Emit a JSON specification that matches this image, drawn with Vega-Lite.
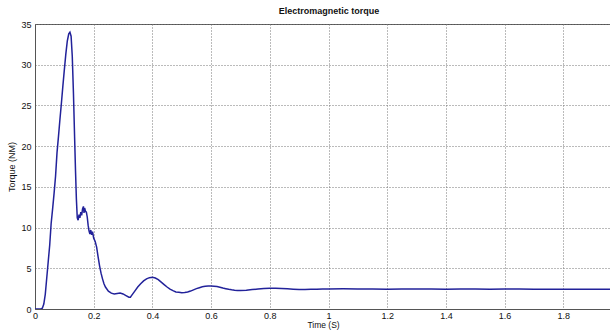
{
  "$schema": "https://vega.github.io/schema/vega-lite/v6.json",
  "autosize": {"type": "none"},
  "padding": {"left": 35, "top": 24, "right": 0, "bottom": 21},
  "width": 576,
  "height": 285,
  "background": "white",
  "config": {
    "view": {"stroke": "#555", "strokeWidth": 1},
    "font": "Liberation Sans",
    "axis": {
      "domainColor": "#555",
      "grid": true,
      "gridColor": "#777",
      "gridDash": [1, 2],
      "gridWidth": 1,
      "ticks": false,
      "labelFontSize": 9,
      "labelColor": "#111",
      "titleFontSize": 9,
      "titleFontWeight": "normal",
      "titleColor": "#111"
    }
  },
  "title": {
    "text": "Electromagnetic torque",
    "fontSize": 9,
    "fontWeight": "bold",
    "color": "#111",
    "offset": 4,
    "dx": 6
  },
  "data": {
    "values": [
      {"t": 0, "v": 0}, {"t": 0.02, "v": 0}, {"t": 0.025, "v": 0.1}, {"t": 0.03, "v": 0.6},
      {"t": 0.035, "v": 1.8}, {"t": 0.04, "v": 3.8}, {"t": 0.045, "v": 5.8}, {"t": 0.05, "v": 7.8},
      {"t": 0.055, "v": 10.5}, {"t": 0.06, "v": 12.3}, {"t": 0.065, "v": 14.2}, {"t": 0.07, "v": 16.3},
      {"t": 0.075, "v": 19.2}, {"t": 0.08, "v": 21.2}, {"t": 0.085, "v": 23.3}, {"t": 0.09, "v": 25.3},
      {"t": 0.095, "v": 27.4}, {"t": 0.1, "v": 29.4}, {"t": 0.105, "v": 31.3}, {"t": 0.11, "v": 32.9},
      {"t": 0.115, "v": 33.8}, {"t": 0.119, "v": 34.0}, {"t": 0.123, "v": 33.5}, {"t": 0.127, "v": 31},
      {"t": 0.131, "v": 26.5}, {"t": 0.135, "v": 21}, {"t": 0.138, "v": 17}, {"t": 0.141, "v": 13.5},
      {"t": 0.144, "v": 11.2}, {"t": 0.147, "v": 10.9}, {"t": 0.15, "v": 11.6}, {"t": 0.153, "v": 11.2},
      {"t": 0.156, "v": 11.9}, {"t": 0.159, "v": 11.5}, {"t": 0.162, "v": 12.3}, {"t": 0.165, "v": 12.6},
      {"t": 0.167, "v": 11.8}, {"t": 0.169, "v": 12.4}, {"t": 0.172, "v": 12.0}, {"t": 0.175, "v": 11.9},
      {"t": 0.178, "v": 11.3}, {"t": 0.181, "v": 10.3}, {"t": 0.184, "v": 9.6}, {"t": 0.187, "v": 9.2},
      {"t": 0.19, "v": 9.7}, {"t": 0.193, "v": 9.1}, {"t": 0.196, "v": 9.5}, {"t": 0.2, "v": 8.7},
      {"t": 0.205, "v": 8.3}, {"t": 0.21, "v": 7.6}, {"t": 0.215, "v": 6.4}, {"t": 0.22, "v": 5.3},
      {"t": 0.225, "v": 4.4}, {"t": 0.23, "v": 3.7}, {"t": 0.235, "v": 3.1}, {"t": 0.24, "v": 2.7},
      {"t": 0.25, "v": 2.2}, {"t": 0.26, "v": 1.95}, {"t": 0.27, "v": 1.85}, {"t": 0.28, "v": 1.9},
      {"t": 0.29, "v": 1.95}, {"t": 0.3, "v": 1.85}, {"t": 0.31, "v": 1.65}, {"t": 0.32, "v": 1.45},
      {"t": 0.325, "v": 1.45}, {"t": 0.33, "v": 1.7}, {"t": 0.34, "v": 2.2}, {"t": 0.35, "v": 2.7},
      {"t": 0.36, "v": 3.1}, {"t": 0.37, "v": 3.45}, {"t": 0.38, "v": 3.7}, {"t": 0.39, "v": 3.85},
      {"t": 0.4, "v": 3.9}, {"t": 0.41, "v": 3.8}, {"t": 0.42, "v": 3.6}, {"t": 0.43, "v": 3.3},
      {"t": 0.44, "v": 3.0}, {"t": 0.45, "v": 2.7}, {"t": 0.46, "v": 2.45}, {"t": 0.47, "v": 2.25},
      {"t": 0.48, "v": 2.1}, {"t": 0.49, "v": 2.05}, {"t": 0.5, "v": 2.0}, {"t": 0.51, "v": 2.02},
      {"t": 0.52, "v": 2.08}, {"t": 0.53, "v": 2.2}, {"t": 0.54, "v": 2.35}, {"t": 0.55, "v": 2.5},
      {"t": 0.56, "v": 2.62}, {"t": 0.57, "v": 2.72}, {"t": 0.58, "v": 2.78}, {"t": 0.59, "v": 2.82},
      {"t": 0.6, "v": 2.83}, {"t": 0.61, "v": 2.8}, {"t": 0.62, "v": 2.75}, {"t": 0.63, "v": 2.67},
      {"t": 0.64, "v": 2.58}, {"t": 0.65, "v": 2.5}, {"t": 0.66, "v": 2.42}, {"t": 0.67, "v": 2.36},
      {"t": 0.68, "v": 2.31}, {"t": 0.69, "v": 2.28}, {"t": 0.7, "v": 2.27}, {"t": 0.72, "v": 2.3},
      {"t": 0.74, "v": 2.38}, {"t": 0.76, "v": 2.46}, {"t": 0.78, "v": 2.52}, {"t": 0.8, "v": 2.55},
      {"t": 0.82, "v": 2.55}, {"t": 0.84, "v": 2.52}, {"t": 0.86, "v": 2.48}, {"t": 0.88, "v": 2.44},
      {"t": 0.9, "v": 2.41}, {"t": 0.92, "v": 2.4}, {"t": 0.94, "v": 2.42}, {"t": 0.96, "v": 2.44},
      {"t": 0.98, "v": 2.46}, {"t": 1.0, "v": 2.47}, {"t": 1.05, "v": 2.48}, {"t": 1.1, "v": 2.46},
      {"t": 1.15, "v": 2.45}, {"t": 1.2, "v": 2.44}, {"t": 1.25, "v": 2.45}, {"t": 1.3, "v": 2.46},
      {"t": 1.35, "v": 2.45}, {"t": 1.4, "v": 2.44}, {"t": 1.45, "v": 2.45}, {"t": 1.5, "v": 2.45},
      {"t": 1.55, "v": 2.44}, {"t": 1.6, "v": 2.45}, {"t": 1.65, "v": 2.45}, {"t": 1.7, "v": 2.44},
      {"t": 1.75, "v": 2.44}, {"t": 1.8, "v": 2.44}, {"t": 1.85, "v": 2.43}, {"t": 1.9, "v": 2.43},
      {"t": 1.96, "v": 2.43}
    ]
  },
  "mark": {"type": "line", "color": "#22229a", "strokeWidth": 1.5, "clip": true},
  "encoding": {
    "x": {
      "field": "t",
      "type": "quantitative",
      "scale": {"domain": [0, 1.9625], "nice": false, "zero": false},
      "axis": {
        "values": [0, 0.2, 0.4, 0.6, 0.8, 1, 1.2, 1.4, 1.6, 1.8],
        "format": "~g",
        "title": "Time (S)",
        "titleFontSize": 8.5,
        "titlePadding": 0,
        "labelPadding": 2,
        "labelFlush": false
      }
    },
    "y": {
      "field": "v",
      "type": "quantitative",
      "scale": {"domain": [0, 35], "nice": false},
      "axis": {
        "values": [0, 5, 10, 15, 20, 25, 30, 35],
        "title": "Torque (NM)",
        "titlePadding": 4,
        "labelPadding": 4
      }
    }
  }
}
